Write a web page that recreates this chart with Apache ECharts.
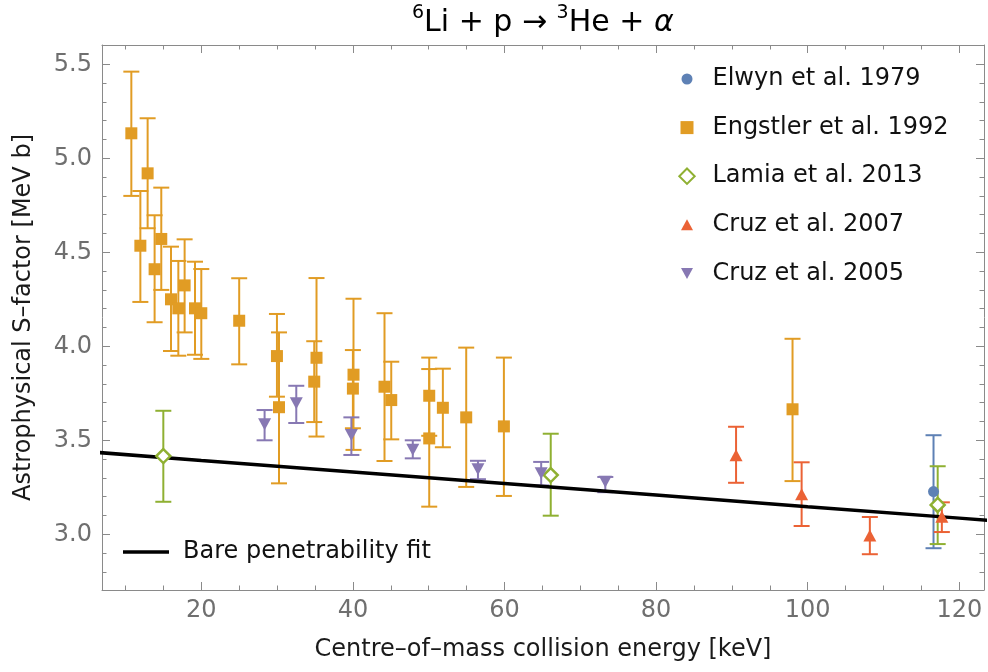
<!DOCTYPE html>
<html>
<head>
<meta charset="utf-8">
<script src="https://cdn.jsdelivr.net/npm/echarts@6/dist/echarts.min.js"></script>
<style>
html,body{margin:0;padding:0;background:#fff;}
#chart{width:988px;height:672px;}
</style>
</head>
<body>
<div id="chart"></div>
<script>
// ---- Data ----
const elwynE  = [116.6];
const elwynS  = [3.227];
const elwynLo = [2.926];
const elwynHi = [3.527];

const engstlerE  = [10.77, 11.96, 12.92, 13.84, 14.72, 16.0, 16.97, 17.8, 19.17, 20.0, 25.0, 29.98, 30.25, 34.9, 35.2, 40.0, 40.08, 44.17, 45.06, 50.07, 50.07, 51.87, 54.95, 59.92, 98.0];
const engstlerS  = [5.133, 4.535, 4.92, 4.41, 4.571, 4.25, 4.202, 4.324, 4.202, 4.176, 4.136, 3.948, 3.676, 3.812, 3.939, 3.775, 3.849, 3.785, 3.714, 3.737, 3.51, 3.673, 3.622, 3.574, 3.665];
const engstlerLo = [4.80, 4.236, 4.628, 4.128, 4.30, 3.975, 3.95, 4.074, 3.955, 3.933, 3.904, 3.732, 3.271, 3.597, 3.52, 3.564, 3.449, 3.39, 3.505, 3.524, 3.147, 3.463, 3.252, 3.204, 3.283];
const engstlerHi = [5.461, 4.826, 5.213, 4.697, 4.844, 4.530, 4.454, 4.569, 4.45, 4.411, 4.362, 4.172, 4.074, 4.027, 4.363, 3.98, 4.253, 4.176, 3.918, 3.94, 3.879, 3.881, 3.993, 3.94, 4.04];

const lamiaE  = [14.99, 66.1, 117.15];
const lamiaS  = [3.416, 3.315, 3.156];
const lamiaLo = [3.173, 3.099, 2.948];
const lamiaHi = [3.657, 3.535, 3.362];

const cruz07E  = [90.55, 99.2, 108.2, 117.7];
const cruz07S  = [3.42, 3.213, 2.993, 3.094];
const cruz07Lo = [3.274, 3.044, 2.894, 3.012];
const cruz07Hi = [3.572, 3.383, 3.092, 3.17];

const cruz05E  = [28.35, 32.53, 39.8, 47.9, 56.5, 64.84, 73.3];
const cruz05S  = [3.585, 3.697, 3.528, 3.45, 3.346, 3.325, 3.28];
const cruz05Lo = [3.50, 3.592, 3.422, 3.404, 3.293, 3.26, 3.224];
const cruz05Hi = [3.661, 3.79, 3.622, 3.50, 3.391, 3.385, 3.305];

const fitE = [0, 20, 40, 60, 80, 100, 120, 125];
const fitS = [3.455, 3.393, 3.332, 3.270, 3.209, 3.147, 3.086, 3.070];

const xMajor = [20, 40, 60, 80, 100, 120];
const xMinor = [10, 15, 25, 30, 35, 45, 50, 55, 65, 70, 75, 85, 90, 95, 105, 110, 115];
const yMajor = [3.0, 3.5, 4.0, 4.5, 5.0, 5.5];
const yMinor = [2.8, 2.9, 3.1, 3.2, 3.3, 3.4, 3.6, 3.7, 3.8, 3.9, 4.1, 4.2, 4.3, 4.4, 4.6, 4.7, 4.8, 4.9, 5.1, 5.2, 5.3, 5.4, 5.6];

const names = ['Elwyn et al. 1979', 'Engstler et al. 1992', 'Lamia et al. 2013', 'Cruz et al. 2007', 'Cruz et al. 2005'];
const fitName = 'Bare penetrability fit';

// ---- Styling ----
const C_BLUE = '#5E81B5', C_ORANGE = '#E19C24', C_GREEN = '#8FB032', C_RED = '#EB6235', C_PURPLE = '#8778B3';
const FONT = 'DejaVu Sans';
const FRAME = '#8a8a8a';
const X_MIN = 6.9, X_MAX = 123.26, Y_MIN = 2.7037, Y_MAX = 5.6027;
// legend icons drawn inside a 17x17 box (the leading moves fix the box)
const ICON_CIRCLE = 'path://M0,0M17,17M3,8.5A5.5,5.5,0,1,1,14,8.5A5.5,5.5,0,1,1,3,8.5Z';
const ICON_SQUARE = 'path://M0,0M17,17M2,2L15,2L15,15L2,15Z';
const ICON_DIAMOND = 'path://M0,0M17,17M8.5,0.8L16.2,8.5L8.5,16.2L0.8,8.5Z';
const ICON_UP = 'path://M0,0M17,17M8.5,3L14.5,14L2.5,14Z';
const ICON_DOWN = 'path://M0,0M17,17M2.5,3L14.5,3L8.5,14Z';

function zip2(a, b) { return a.map((v, i) => [v, b[i]]); }
function zip3(a, b, c) { return a.map((v, i) => [v, b[i], c[i]]); }

function errRender(color) {
  return function (params, api) {
    const x = api.value(0), lo = api.value(1), hi = api.value(2);
    const pL = api.coord([x, lo]), pH = api.coord([x, hi]);
    const w = 8;
    const st = { stroke: color, lineWidth: 2 };
    return {
      type: 'group',
      children: [
        { type: 'line', shape: { x1: pL[0], y1: pL[1], x2: pH[0], y2: pH[1] }, style: st },
        { type: 'line', shape: { x1: pL[0] - w, y1: pL[1], x2: pL[0] + w, y2: pL[1] }, style: st },
        { type: 'line', shape: { x1: pH[0] - w, y1: pH[1], x2: pH[0] + w, y2: pH[1] }, style: st }
      ]
    };
  };
}
function errSeries(id, E, Lo, Hi, color) {
  return {
    type: 'custom', name: id, coordinateSystem: 'cartesian2d',
    renderItem: errRender(color), data: zip3(E, Lo, Hi),
    encode: { x: 0, y: [1, 2] }, z: 2, silent: true
  };
}

function xAxisDef(pos, ticks, len, showLine, showLabel) {
  return {
    type: 'value', min: X_MIN, max: X_MAX, position: pos,
    axisLine: { show: showLine, onZero: false, lineStyle: { color: FRAME, width: 1 } },
    axisTick: { show: true, inside: true, length: len, customValues: ticks, lineStyle: { color: FRAME, width: 1 } },
    axisLabel: showLabel ? { show: true, customValues: ticks, fontFamily: FONT, fontSize: 24, color: '#6f6f6f', margin: 9 } : { show: false },
    splitLine: { show: false }, minorTick: { show: false }
  };
}
function yAxisDef(pos, ticks, len, showLine, showLabel) {
  return {
    type: 'value', min: Y_MIN, max: Y_MAX, position: pos,
    axisLine: { show: showLine, onZero: false, lineStyle: { color: FRAME, width: 1 } },
    axisTick: { show: true, inside: true, length: len, customValues: ticks, lineStyle: { color: FRAME, width: 1 } },
    axisLabel: showLabel ? { show: true, customValues: ticks, fontFamily: FONT, fontSize: 24, color: '#6f6f6f', margin: 10, formatter: v => v.toFixed(1) } : { show: false },
    splitLine: { show: false }, minorTick: { show: false }
  };
}

const xAxes = [
  xAxisDef('bottom', xMajor, 8, true, true),
  xAxisDef('bottom', xMinor, 4.5, false, false),
  xAxisDef('top', xMajor, 8, true, false),
  xAxisDef('top', xMinor, 4.5, false, false)
];
Object.assign(xAxes[0], {
  name: 'Centre\u2013of\u2013mass collision energy [keV]', nameLocation: 'middle', nameGap: 48,
  nameTextStyle: { fontFamily: FONT, fontSize: 24, color: '#1a1a1a' }
});
const yAxes = [
  yAxisDef('left', yMajor, 8, true, true),
  yAxisDef('left', yMinor, 4.5, false, false),
  yAxisDef('right', yMajor, 8, true, false),
  yAxisDef('right', yMinor, 4.5, false, false)
];
Object.assign(yAxes[0], {
  name: 'Astrophysical S\u2013factor [MeV b]', nameLocation: 'middle', nameGap: 66, nameRotate: 90,
  nameTextStyle: { fontFamily: FONT, fontSize: 24, color: '#1a1a1a' }
});

const chart = echarts.init(document.getElementById('chart'), null, { renderer: 'canvas' });
chart.setOption({
  animation: false,
  backgroundColor: '#ffffff',
  title: {
    text: '{sup|6}Li + p \u2192 {sup|3}He + {it|\u03b1}',
    left: 412, top: 4, padding: 0,
    textStyle: {
      fontFamily: FONT, fontSize: 30, fontWeight: 'normal', color: '#000', lineHeight: 38,
      rich: {
        sup: { fontFamily: FONT, fontSize: 19, color: '#000', verticalAlign: 'top', lineHeight: 19 },
        it: { fontFamily: FONT, fontSize: 30, color: '#000', fontStyle: 'italic', lineHeight: 38 }
      }
    }
  },
  grid: { left: 102, right: 4, top: 45, bottom: 82, containLabel: false },
  xAxis: xAxes,
  yAxis: yAxes,
  legend: [
    {
      data: [
        { name: names[0], icon: ICON_CIRCLE },
        { name: names[1], icon: ICON_SQUARE },
        { name: names[2], icon: ICON_DIAMOND },
        { name: names[3], icon: ICON_UP },
        { name: names[4], icon: ICON_DOWN }
      ],
      orient: 'vertical', left: 677.5, top: 64, itemGap: 18.6, padding: 0,
      itemWidth: 17, itemHeight: 17,
      textStyle: { fontFamily: FONT, fontSize: 24, color: '#111', lineHeight: 30, padding: [0, 0, 0, 12] },
      selectedMode: false
    },
    {
      data: [{ name: fitName, icon: 'rect' }], orient: 'vertical', left: 123, top: 537, padding: 0,
      itemWidth: 46, itemHeight: 3.5,
      textStyle: { fontFamily: FONT, fontSize: 24, color: '#111', lineHeight: 30, padding: [0, 0, 0, 9] },
      selectedMode: false
    }
  ],
  series: [
    errSeries('e-elwyn', elwynE, elwynLo, elwynHi, C_BLUE),
    errSeries('e-engstler', engstlerE, engstlerLo, engstlerHi, C_ORANGE),
    errSeries('e-lamia', lamiaE, lamiaLo, lamiaHi, C_GREEN),
    errSeries('e-cruz07', cruz07E, cruz07Lo, cruz07Hi, C_RED),
    errSeries('e-cruz05', cruz05E, cruz05Lo, cruz05Hi, C_PURPLE),
    {
      type: 'line', name: fitName, data: zip2(fitE, fitS), symbol: 'none', showSymbol: false,
      lineStyle: { color: '#000', width: 3.5 }, itemStyle: { color: '#000' }, z: 3, clip: true, silent: true
    },
    { type: 'scatter', name: names[0], data: zip2(elwynE, elwynS), symbol: 'circle', symbolSize: 11,
      itemStyle: { color: C_BLUE, opacity: 1 }, z: 5, silent: true },
    { type: 'scatter', name: names[1], data: zip2(engstlerE, engstlerS), symbol: 'rect', symbolSize: 12,
      itemStyle: { color: C_ORANGE, opacity: 1 }, z: 5, silent: true },
    { type: 'scatter', name: names[2], data: zip2(lamiaE, lamiaS), symbol: 'diamond', symbolSize: 14,
      itemStyle: { color: '#ffffff', borderColor: C_GREEN, borderWidth: 2.5, opacity: 1 }, z: 5, silent: true },
    { type: 'scatter', name: names[3], data: zip2(cruz07E, cruz07S), symbol: 'triangle', symbolSize: [13, 12],
      itemStyle: { color: C_RED, opacity: 1 }, z: 5, silent: true },
    { type: 'scatter', name: names[4], data: zip2(cruz05E, cruz05S), symbol: 'triangle', symbolRotate: 180, symbolSize: [13, 12],
      itemStyle: { color: C_PURPLE, opacity: 1 }, z: 5, silent: true }
  ]
});
</script>
</body>
</html>
